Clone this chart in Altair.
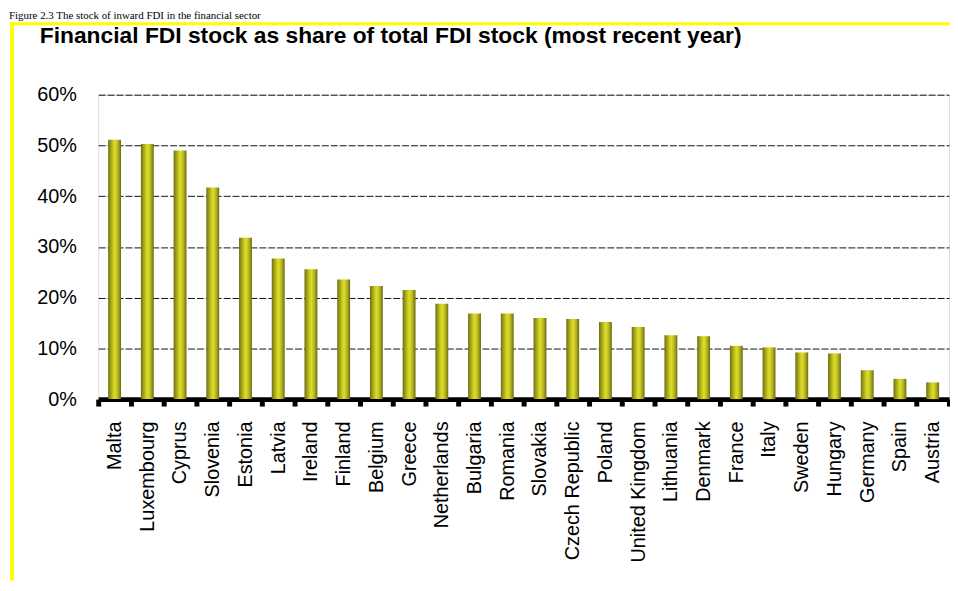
import altair as alt
import pandas as pd

countries = ["Malta", "Luxembourg", "Cyprus", "Slovenia", "Estonia", "Latvia", "Ireland",
             "Finland", "Belgium", "Greece", "Netherlands", "Bulgaria", "Romania", "Slovakia",
             "Czech Republic", "Poland", "United Kingdom", "Lithuania", "Denmark", "France",
             "Italy", "Sweden", "Hungary", "Germany", "Spain", "Austria"]
shares = [0.511, 0.503, 0.490, 0.417, 0.318, 0.277, 0.256, 0.236, 0.223, 0.215, 0.188,
          0.169, 0.169, 0.160, 0.158, 0.152, 0.142, 0.126, 0.124, 0.105, 0.102, 0.092,
          0.090, 0.057, 0.040, 0.033]
y_ticks = [0, 0.1, 0.2, 0.3, 0.4, 0.5, 0.6]

title_text = "Financial FDI stock as share of total FDI stock (most recent year)"
header_text = "Figure 2.3 The stock of inward FDI in the financial sector"

df = pd.DataFrame({"country": countries, "share": shares})
one = pd.DataFrame({"k": [0]})

W, H = 858, 307
PL, PT, PR, PB = 91, 85, 1, 183

FONT = "Liberation Sans"

gradient = alt.Gradient(
    gradient="linear",
    stops=[
        alt.GradientStop(color="#6e6e10", offset=0),
        alt.GradientStop(color="#9a9a18", offset=0.18),
        alt.GradientStop(color="#d0d024", offset=0.42),
        alt.GradientStop(color="#dcdc2e", offset=0.55),
        alt.GradientStop(color="#b0b01c", offset=0.78),
        alt.GradientStop(color="#6a6a0e", offset=1),
    ],
    x1=0, x2=1, y1=0, y2=0,
)

bars = alt.Chart(df).mark_bar(size=13, color=gradient).encode(
    x=alt.X("country:N", sort=countries, title=None,
            scale=alt.Scale(paddingInner=0, paddingOuter=0),
            axis=alt.Axis(labelAngle=270, labelAlign="right", labelBaseline="middle",
                          labelFont=FONT, labelFontSize=20, labelColor="#000",
                          labelPadding=15, domainColor="#000", domainWidth=5,
                          tickBand="extent", tickColor="#000", tickWidth=5, tickSize=7,
                          grid=False)),
    y=alt.Y("share:Q", title=None,
            scale=alt.Scale(domain=[0, 0.6], nice=False),
            axis=alt.Axis(values=y_ticks, format=".0%", labelFont=FONT, labelFontSize=20,
                          labelColor="#000", labelPadding=22, domain=False, ticks=False,
                          grid=True, gridColor="#111", gridDash=[7, 2], gridWidth=1)),
)

top_border = alt.Chart(one).mark_rule(color="#ffff00", strokeWidth=3).encode(
    x=alt.value(-89), x2=alt.value(W + PR), y=alt.value(-PT + 13.5))
left_border = alt.Chart(one).mark_rule(color="#ffff00", strokeWidth=4).encode(
    x=alt.value(-PL + 4), y=alt.value(-PT + 12), y2=alt.value(H + PB))

title = alt.Chart(one).mark_text(text=title_text, font=FONT, fontSize=23, fontWeight="bold",
                                 align="left", baseline="alphabetic", color="#000").encode(
    x=alt.value(-59), y=alt.value(-PT + 33))

header = alt.Chart(one).mark_text(text=header_text, font="Liberation Serif", fontSize=11,
                                  align="left", baseline="alphabetic", color="#000").encode(
    x=alt.value(-PL + 1), y=alt.value(-PT + 9))

chart = alt.layer(bars, top_border, left_border, title, header).properties(
    width=W, height=H,
    autosize=alt.AutoSizeParams(type="none"),
    padding={"left": PL, "top": PT, "right": PR, "bottom": PB},
).configure_view(stroke=None).configure(background="white")

chart.save("out.html", embed_options={"renderer": "svg", "actions": False})
